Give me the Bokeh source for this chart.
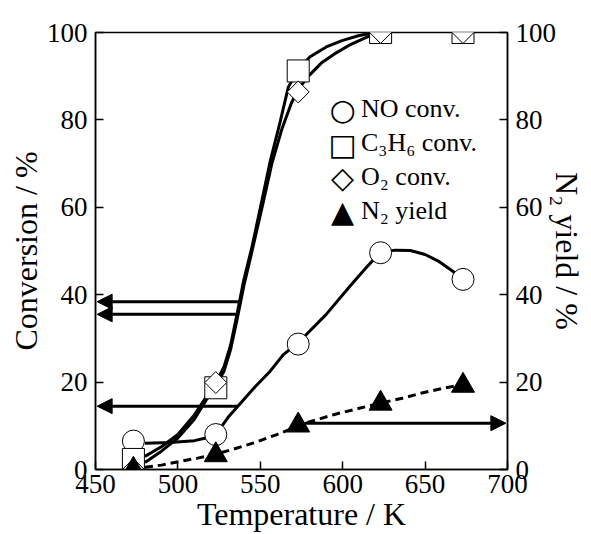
import numpy as np
from bokeh.plotting import figure
from bokeh.models import LinearAxis, Legend, LegendItem, Arrow, NormalHead, FixedTicker, Label
from bokeh.embed import file_html
from bokeh.resources import INLINE

# measured points
temp = [473, 523, 573, 623, 673]
no_conv = [6.5, 8.0, 28.7, 49.6, 43.5]
c3h6_conv = [2.3, 18.7, 91.2, 100, 100]
o2_conv = [0.0, 19.9, 86.4, 100, 100]
n2_yield = [0.0, 3.3, 10.1, 15.1, 19.2]

# traced fit curves
c3h6_curve_t = [480, 490, 500, 510, 517, 523, 528, 532, 536, 540, 545, 551, 556, 562, 567, 573, 580, 590, 600, 610, 620]
c3h6_curve_v = [3.0, 5.2, 8.0, 12.5, 16.5, 19.8, 23.5, 28.5, 35.8, 43.4, 51, 61.6, 70.5, 79.5, 87.5, 91.5, 94.4, 96.7, 98.2, 99.3, 100]
o2_curve_t = [480, 490, 500, 510, 517, 523, 528, 532, 536, 540, 545, 552, 557, 563, 569, 574, 580, 587, 595, 605, 615, 622]
o2_curve_v = [1.6, 4.2, 7.2, 11.5, 15.8, 19.2, 22.5, 27.5, 34.5, 42, 50, 61.5, 70, 77.8, 84, 87.5, 90.3, 93, 95.1, 97.3, 99, 100]
no_curve_t = [480, 495, 510, 517, 523, 531, 540, 547, 556, 564, 573, 590, 605, 615, 623, 632, 641, 650, 658, 667, 673]
no_curve_v = [6.0, 6.2, 6.6, 7.2, 8.0, 12.2, 16, 19, 22.5, 26.3, 29, 35.5, 42.2, 46.5, 49.7, 50.2, 50.1, 49.2, 47.7, 45.3, 43.5]
n2_curve_t = [480, 490, 502, 512, 522, 534, 546, 560, 579, 595, 610, 623, 636, 648, 660, 673]
n2_curve_v = [0.5, 1.0, 1.9, 2.6, 3.4, 4.7, 6.1, 8.0, 10.8, 12.6, 14.0, 15.2, 16.3, 17.5, 18.5, 19.5]

# arrows (start x, start y, end x, end y)
arrow_x0 = [537, 537, 536, 577]
arrow_y0 = [38.4, 35.5, 14.5, 10.6]
arrow_x1 = [451, 451, 451, 699]
arrow_y1 = [38.4, 35.5, 14.5, 10.6]

x_ticks = [450, 500, 550, 600, 650, 700]
y_ticks = [0, 20, 40, 60, 80, 100]

legend_labels = ["NO conv.", "C₃H₆ conv.", "O₂ conv.", "N₂ yield"]
legend_symbols = ["○", "□", "◇", "▲"]

FONT = "Liberation Serif"

p = figure(width=591, height=534, x_range=(450, 700), y_range=(0, 100),
           output_backend="svg", toolbar_location=None,
           min_border_left=95, min_border_right=84, min_border_top=32, min_border_bottom=64)
p.grid.visible = False
p.outline_line_color = "black"
p.outline_line_width = 1.5
p.background_fill_color = "white"
p.border_fill_color = "white"

def style_axis(ax, standoff, lab_standoff):
    ax.major_tick_in = 8
    ax.major_tick_out = 0
    ax.minor_tick_in = 0
    ax.minor_tick_out = 0
    ax.axis_line_width = 1.5
    ax.major_tick_line_width = 1.5
    ax.major_label_text_font = FONT
    ax.major_label_text_font_size = "27px"
    ax.major_label_text_color = "black"
    ax.axis_label_text_font = FONT
    ax.axis_label_text_font_size = "32px"
    ax.axis_label_text_font_style = "normal"
    ax.axis_label_text_color = "black"
    ax.major_label_standoff = standoff
    ax.axis_label_standoff = lab_standoff

p.xaxis.ticker = FixedTicker(ticks=x_ticks)
p.xaxis.axis_label = "Temperature / K"
style_axis(p.xaxis[0], 5, 0)
p.yaxis.ticker = FixedTicker(ticks=y_ticks)
p.yaxis.axis_label = "Conversion / %"
style_axis(p.yaxis[0], 8, 0)

ry = LinearAxis(axis_label="N₂ yield / %", ticker=FixedTicker(ticks=y_ticks))
style_axis(ry, 8, -10)
p.add_layout(ry, "right")

# curves
p.line(c3h6_curve_t, c3h6_curve_v, line_color="black", line_width=3)
p.line(o2_curve_t, o2_curve_v, line_color="black", line_width=3)
p.line(no_curve_t, no_curve_v, line_color="black", line_width=3)
p.line(n2_curve_t, n2_curve_v, line_color="black", line_width=3, line_dash="8 5")

for i in range(len(arrow_x0)):
    p.add_layout(Arrow(end=NormalHead(size=15, fill_color="black", line_color="black", line_width=1),
                       x_start=arrow_x0[i], y_start=arrow_y0[i], x_end=arrow_x1[i], y_end=arrow_y1[i],
                       line_width=3, line_color="black"))

r_no = p.scatter(temp, no_conv, marker="circle", size=22, fill_color="white", line_color="black", line_width=1)
r_c3 = p.scatter(temp, c3h6_conv, marker="square", size=22, fill_color="white", line_color="black", line_width=1)
r_o2 = p.scatter(temp, o2_conv, marker="square", angle=np.pi / 4, size=15.5, fill_color="white", line_color="black", line_width=1)
r_n2 = p.scatter(temp, n2_yield, marker="triangle", size=23, fill_color="black", line_color="black", line_width=1)

# legend: text via Legend (glyphs hidden), symbols drawn as characters
dummy = p.scatter([], [], marker="circle", size=1, fill_alpha=0, line_alpha=0)
legend = Legend(items=[LegendItem(label=lab, renderers=[dummy]) for lab in legend_labels],
                location=(265, 241), glyph_width=1, glyph_height=34, spacing=0, padding=0, margin=0,
                label_standoff=0, label_text_font=FONT, label_text_font_size="26px",
                label_text_baseline="middle",
                background_fill_alpha=0, border_line_alpha=0, label_text_color="black")
p.add_layout(legend)

sym_y = [360, 325, 292, 258]
for s, yy in zip(legend_symbols, sym_y):
    p.add_layout(Label(x=247, y=yy, x_units="screen", y_units="screen", text=s,
                       text_font="DejaVu Sans", text_font_size="30px", text_align="center",
                       text_baseline="middle", text_color="black"))

open("out.html", "w").write(file_html(p, INLINE))
